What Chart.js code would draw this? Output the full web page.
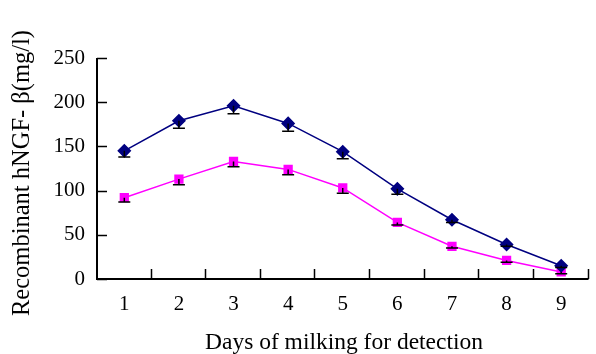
<!DOCTYPE html>
<html>
<head>
<meta charset="utf-8">
<script src="https://cdn.jsdelivr.net/npm/chart.js@4/dist/chart.umd.min.js"></script>
<style>
html,body{margin:0;padding:0;background:#fff;}
#wrap{width:596px;height:354px;position:relative;}
</style>
</head>
<body>
<div id="wrap"><canvas id="c" width="596" height="354"></canvas></div>
<script>
const days = ['1','2','3','4','5','6','7','8','9'];
const seriesA = [145, 179, 196, 176, 144, 102, 67, 39, 15];
const errA = [7, 8.5, 9, 9, 8, 6, 3, 2, 2];
const seriesB = [92, 113, 133, 124, 103, 64, 37, 21, 8];
const errB = [5, 6.5, 6, 6, 6, 3, 2, 2, 2];
const yTicks = [0, 50, 100, 150, 200, 250];
const yTitle = 'Recombinant hNGF- \u03B2(mg/l)';
const xTitle = 'Days of milking for detection';

const FONT = '"Liberation Serif", "Times New Roman", serif';

const axesPlugin = {
  id: 'axesPlugin',
  afterDatasetsDraw(chart) {
    const ctx = chart.ctx;
    const x = chart.scales.x, y = chart.scales.y;
    ctx.save();
    ctx.strokeStyle = '#000';
    ctx.lineWidth = 1.5;
    const drawErr = (vals, errs) => {
      vals.forEach((v, i) => {
        const px = x.getPixelForValue(i);
        const py = y.getPixelForValue(v);
        const pe = y.getPixelForValue(v - errs[i]);
        ctx.beginPath();
        ctx.moveTo(px, py); ctx.lineTo(px, pe);
        ctx.moveTo(px - 6, pe); ctx.lineTo(px + 6, pe);
        ctx.stroke();
      });
    };
    drawErr(seriesA, errA);
    drawErr(seriesB, errB);
    ctx.restore();
  },
  beforeDatasetsDraw(chart) {
    const ctx = chart.ctx;
    const y = chart.scales.y;
    const area = chart.chartArea;
    ctx.save();
    ctx.strokeStyle = '#000';
    ctx.lineWidth = 2;
    ctx.beginPath();
    ctx.moveTo(area.left, area.top); ctx.lineTo(area.left, area.bottom);
    ctx.lineTo(area.right, area.bottom);
    ctx.stroke();
    ctx.lineWidth = 1.5;
    ctx.beginPath();
    yTicks.forEach(v => {
      const py = Math.round(y.getPixelForValue(v)) + 0.5;
      ctx.moveTo(area.left, py); ctx.lineTo(area.left + 10, py);
    });
    const w = (area.right - area.left) / days.length;
    for (let i = 1; i <= days.length; i++) {
      const px = Math.round(area.left + w * i) - 0.5;
      ctx.moveTo(px, area.bottom); ctx.lineTo(px, area.bottom - 10);
    }
    ctx.stroke();
    ctx.fillStyle = '#000';
    ctx.textAlign = 'center';
    ctx.textBaseline = 'alphabetic';
    ctx.font = '23.5px ' + FONT;
    ctx.fillText(xTitle, 344, 349);
    ctx.font = '24.5px ' + FONT;
    ctx.translate(29, 173);
    ctx.rotate(-Math.PI / 2);
    ctx.fillText(yTitle, 0, 0);
    ctx.restore();
  }
};

new Chart(document.getElementById('c'), {
  type: 'line',
  data: {
    labels: days,
    datasets: [
      {
        data: seriesA,
        borderColor: '#000080',
        backgroundColor: '#000080',
        borderWidth: 1.5,
        pointStyle: 'rectRot',
        pointRadius: 6,
        pointHoverRadius: 6,
        tension: 0
      },
      {
        data: seriesB,
        borderColor: '#FF00FF',
        backgroundColor: '#FF00FF',
        borderWidth: 1.5,
        pointStyle: 'rect',
        pointRadius: 5.5,
        pointHoverRadius: 5.5,
        tension: 0
      }
    ]
  },
  options: {
    responsive: false,
    animation: false,
    layout: { padding: { left: 0, right: 4, top: 58, bottom: 0 } },
    plugins: { legend: { display: false }, tooltip: { enabled: false } },
    scales: {
      x: {
        type: 'category',
        offset: true,
        grid: { display: false, drawTicks: false, offset: true },
        border: { display: false },
        ticks: { color: '#000', font: { family: FONT, size: 21 }, padding: 13, maxRotation: 0 },
        afterFit(s) { s.height = 75; }
      },
      y: {
        min: 0, max: 250,
        grid: { display: false, drawTicks: false },
        border: { display: false },
        ticks: { color: '#000', stepSize: 50, font: { family: FONT, size: 21 }, padding: 12 },
        afterFit(s) { s.width = 97; }
      }
    }
  },
  plugins: [axesPlugin]
});
</script>
</body>
</html>
